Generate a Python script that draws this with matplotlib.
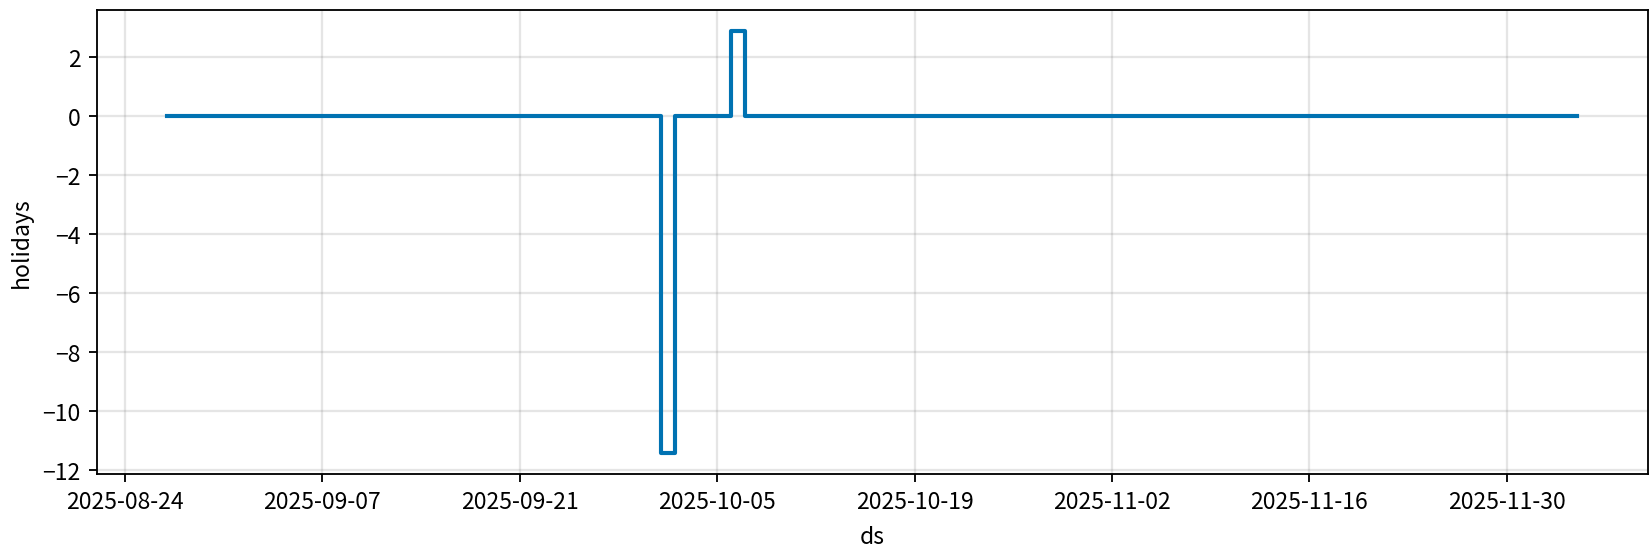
import matplotlib
matplotlib.use('Agg')
import matplotlib.pyplot as plt
import matplotlib.dates as mdates
import numpy as np
import pandas as pd

plt.rcParams['font.family'] = ['Noto Sans CJK JP', 'DejaVu Sans']
plt.rcParams['font.size'] = 10

# daily holiday component (Prophet style)
start_date = '2025-08-27'
end_date = '2025-12-05'
holiday_dates = ['2025-10-01', '2025-10-06']
holiday_effects = [-11.43, 2.90]
tick_dates = ['2025-08-24', '2025-09-07', '2025-09-21', '2025-10-05',
              '2025-10-19', '2025-11-02', '2025-11-16', '2025-11-30']

ds = pd.date_range(start_date, end_date, freq='D')
holidays = pd.Series(0.0, index=ds)
for d, v in zip(holiday_dates, holiday_effects):
    holidays[pd.Timestamp(d)] = v

fig = plt.figure(figsize=(10.006, 3.3515), dpi=165)
ax = fig.add_subplot(111)
ax.plot(ds, holidays.values, ls='-', c='#0072B2', lw=1.8, drawstyle='steps-post')
ax.grid(True, which='major', c='gray', ls='-', lw=1, alpha=0.2)

ax.set_xticks(pd.to_datetime(tick_dates))
ax.xaxis.set_major_formatter(mdates.DateFormatter('%Y-%m-%d'))
ax.set_yticks(np.arange(-12, 3, 2))
ax.set_xlabel('ds', labelpad=5)
ax.set_ylabel('holidays')

fig.subplots_adjust(left=0.0586, right=0.998, top=0.981, bottom=0.141)
plt.savefig('out.png', dpi=165)
